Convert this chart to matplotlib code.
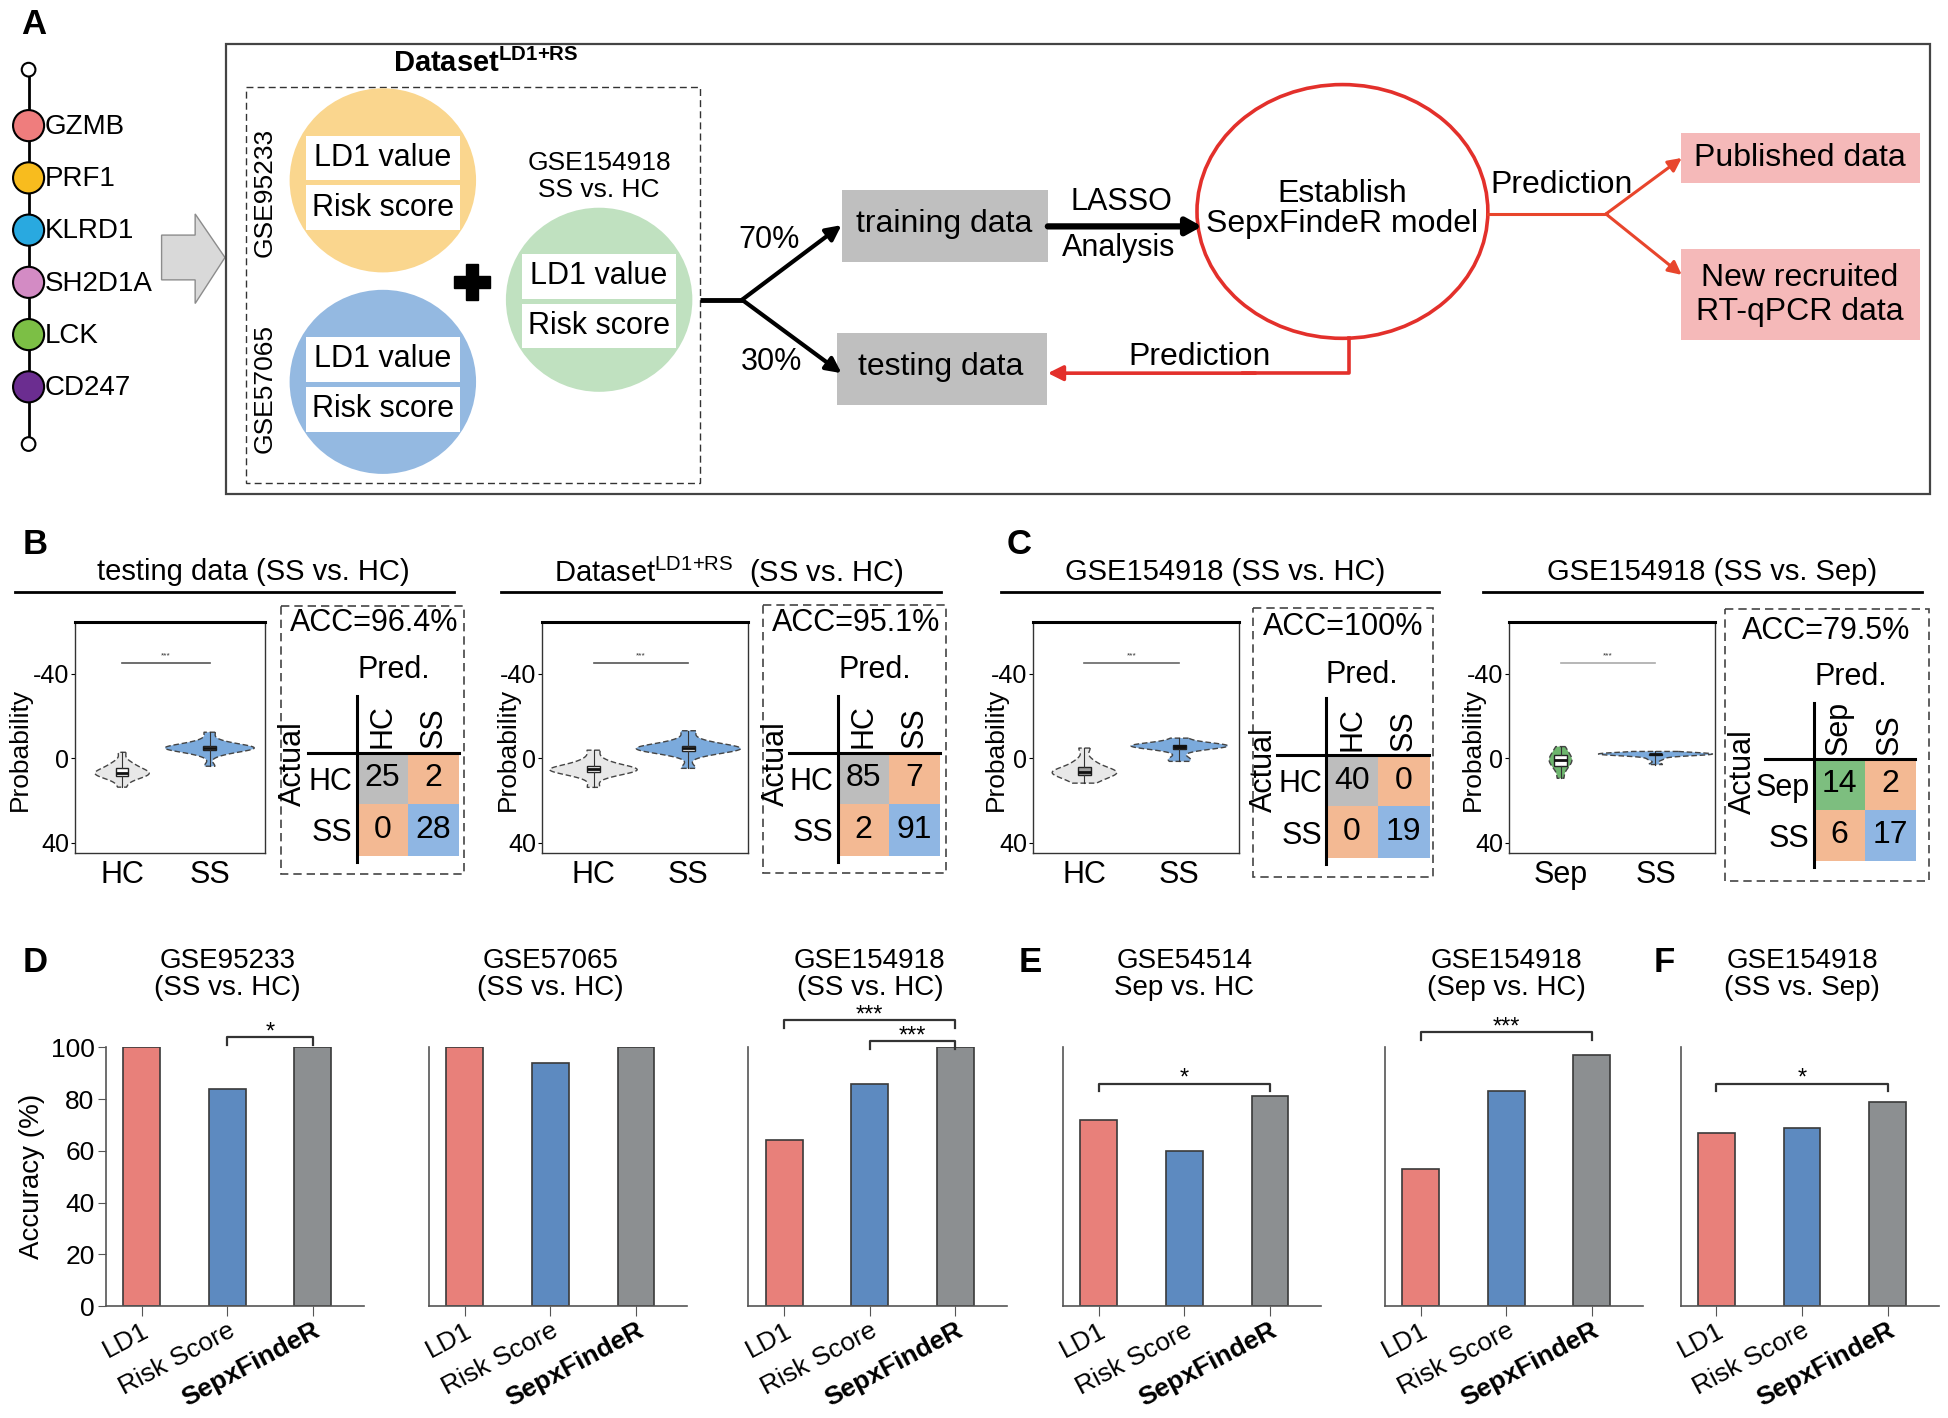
import numpy as np
import matplotlib
matplotlib.use('Agg')
import matplotlib.pyplot as plt
from matplotlib.patches import Ellipse, Rectangle, Circle, Polygon
from matplotlib.colors import to_rgb
from matplotlib.transforms import blended_transform_factory

plt.rcParams['font.family'] = ['Liberation Sans', 'DejaVu Sans']
plt.rcParams['mathtext.fontset'] = 'custom'
plt.rcParams['mathtext.rm'] = 'Liberation Sans'
plt.rcParams['mathtext.bf'] = 'Liberation Sans:bold'
plt.rcParams['axes.unicode_minus'] = False

# ---------------- data ----------------
genes = ['GZMB', 'PRF1', 'KLRD1', 'SH2D1A', 'LCK', 'CD247']
gene_colors = ['#EF7D7D', '#F8BC1E', '#29A9E0', '#D38BC4', '#7CBF45', '#6B2D90']

cm_titles = ['testing data (SS vs. HC)', 'Dataset$^{\\mathrm{LD1{+}RS}}$  (SS vs. HC)',
             'GSE154918 (SS vs. HC)', 'GSE154918 (SS vs. Sep)']
acc_text = ['ACC=96.4%', 'ACC=95.1%', 'ACC=100%', 'ACC=79.5%']
cm_testing = [[25, 2], [0, 28]]
cm_dataset = [[85, 7], [2, 91]]
cm_gse_hc = [[40, 0], [0, 19]]
cm_gse_sep = [[14, 2], [6, 17]]
cm_classes = [['HC', 'SS'], ['HC', 'SS'], ['HC', 'SS'], ['Sep', 'SS']]

# violin samples (probability)
b1_hc = [-2.8, 1.5, 3, 4, 5, 5.8, 6.3, 6.8, 7.2, 7.6, 8, 8.5, 9.3, 10.5, 13.7]
b1_ss = [-12.3, -8.5, -6.8, -6, -5.5, -5.2, -5, -4.8, -4.5, -4.2, -3.8, -3, -1.5, 3.8]
b2_hc = [-3.8, 0.5, 2.5, 3.8, 4.6, 5, 5.3, 5.6, 6, 6.5, 7.5, 9, 13.8]
b2_ss = [-13, -8.5, -6.5, -5.6, -5.1, -4.8, -4.5, -4.2, -3.8, -3, -1.5, 4.8]
c1_hc = [-4.8, 1, 3.5, 5, 6, 6.5, 7, 7.5, 8.5, 10, 11.8]
c1_ss = [-9.5, -7, -6.5, -6.2, -6, -5.8, -5.6, -5.3, -4.8, -3.5, 0, 1.5]
c2_sep = [-5.5, -3, -1.5, 0, 1, 2, 3.5, 5.5, 9.5]
c2_ss = [-3.2, -2.4, -2.2, -2.1, -2, -2, -1.9, -1.8, -1.6, -1, 0.5, 3]

methods = ['LD1', 'Risk Score', 'SepxFindeR']
bar_colors = ['#E8807A', '#5D8AC0', '#8C8F91']
acc_gse95233 = [100, 84, 100]
acc_gse57065 = [100, 94, 100]
acc_gse154918_ss = [64, 86, 100]
acc_gse54514 = [72, 60, 81]
acc_gse154918_sep = [53, 83, 97]
acc_gse154918_sssep = [67, 69, 79]
bar_titles = ['GSE95233\n(SS vs. HC)', 'GSE57065\n(SS vs. HC)', 'GSE154918\n(SS vs. HC)',
              'GSE54514\nSep vs. HC', 'GSE154918\n(Sep vs. HC)', 'GSE154918\n(SS vs. Sep)']
# (bar i, bar j, bracket height, label)
sig_d1 = [(1, 2, 104, '*')]
sig_d2 = []
sig_d3 = [(0, 2, 110.5, '***'), (1, 2, 102.5, '***')]
sig_e1 = [(0, 2, 86, '*')]
sig_e2 = [(0, 2, 106, '***')]
sig_f = [(0, 2, 86, '*')]

# ---------------- layout helpers ----------------
W, H = 1568.0, 1140.0
fig = plt.figure(figsize=(19.49, 14.18), dpi=100)


def rect(x0, y0, x1, y1):
    return [x0 / W, 1 - y1 / H, (x1 - x0) / W, (y1 - y0) / H]


base = fig.add_axes([0, 0, 1, 1])
base.set_xlim(0, W)
base.set_ylim(H, 0)
base.axis('off')

# ---------------- panel A ----------------
for lab, x, y in [('A', 27, 20), ('B', 28, 438), ('C', 820, 438),
                  ('D', 28, 774), ('E', 829, 774), ('F', 1339, 774)]:
    base.text(x, y, lab, fontsize=25, fontweight='bold', ha='center', va='center')

base.plot([23, 23], [56, 357], color='black', lw=2, zorder=1)
for yy in [56, 357]:
    base.add_patch(Circle((23, yy), 5.5, fc='white', ec='black', lw=1.5, zorder=2))
for g, c, yy in zip(genes, gene_colors, np.linspace(101, 311, len(genes))):
    base.add_patch(Circle((23, yy), 12.5, fc=c, ec='black', lw=1.5, zorder=2))
    base.text(36, yy + 1, g, fontsize=20, ha='left', va='center', zorder=3)

base.add_patch(Polygon([(130, 189), (157, 189), (157, 172), (181, 207), (157, 244), (157, 225), (130, 225)],
                       fc='#D9D9D9', ec='#8C8C8C', lw=1))
base.add_patch(Rectangle((182, 35), 1371, 362, fc='none', ec='#444444', lw=1.6))
base.text(391, 51, r'$\mathbf{Dataset}^{\mathbf{LD1{+}RS}}$', fontsize=21, ha='center', va='center')
base.add_patch(Rectangle((198, 70), 365, 318, fc='none', ec='#333333', lw=1, ls=(0, (5, 3))))

circles = [((308, 145), '#FAD68E', 109, 149), ((308, 307), '#94B9E1', 271, 311), ((482, 241), '#C0E1C0', 204, 244)]
for (cx, cy), col, y1, y2 in circles:
    base.add_patch(Ellipse((cx, cy), 150, 148, fc=col, ec='none'))
    for yy, txt in [(y1, 'LD1 value'), (y2, 'Risk score')]:
        base.add_patch(Rectangle((cx - 62, yy), 124, 36, fc='white', ec='none'))
        base.text(cx, yy + 18, txt, fontsize=22, ha='center', va='center')
base.text(213, 155, 'GSE95233', rotation=90, fontsize=19, ha='center', va='center')
base.text(213, 312, 'GSE57065', rotation=90, fontsize=19, ha='center', va='center')
base.text(482, 142, 'GSE154918\nSS vs. HC', fontsize=19, ha='center', va='center', linespacing=1.15)
base.plot([380], [227], marker='P', ms=26, color='black', mec='black')

base.plot([563, 598], [241, 241], color='black', lw=3.5, solid_capstyle='butt')
for ty in [181, 300]:
    base.annotate('', xy=(677, ty), xytext=(597, 241),
                  arrowprops=dict(arrowstyle='-|>,head_length=0.9,head_width=0.45', lw=3,
                                  color='black', shrinkA=0, shrinkB=0))
base.text(619, 193, '70%', fontsize=22, ha='center', va='center')
base.text(621, 291, '30%', fontsize=22, ha='center', va='center')

base.add_patch(Rectangle((677, 153), 166, 58, fc='#BFBFBF', ec='none'))
base.text(760, 180, 'training data', fontsize=23, ha='center', va='center')
base.add_patch(Rectangle((673, 268), 169, 58, fc='#BFBFBF', ec='none'))
base.text(757, 295, 'testing data', fontsize=23, ha='center', va='center')

base.annotate('', xy=(967, 182), xytext=(843, 182),
              arrowprops=dict(arrowstyle='-|>,head_length=0.9,head_width=0.5', lw=4.5,
                              color='black', shrinkA=0, shrinkB=0))
base.text(902, 162, 'LASSO', fontsize=22, ha='center', va='center')
base.text(900, 199, 'Analysis', fontsize=22, ha='center', va='center')

red = '#E3302B'
base.add_patch(Ellipse((1080, 170), 234, 204, fc='none', ec=red, lw=2.6))
base.text(1080, 168, 'Establish\nSepxFindeR model', fontsize=23, ha='center', va='center', linespacing=1.0)
base.plot([1197, 1293], [172, 172], color='#E8452C', lw=2.2)
for ty in [127, 221]:
    base.annotate('', xy=(1353, ty), xytext=(1292, 172),
                  arrowprops=dict(arrowstyle='-|>,head_length=0.8,head_width=0.4', lw=2.2,
                                  color='#E8452C', shrinkA=0, shrinkB=0))
base.text(1256, 149, 'Prediction', fontsize=23, ha='center', va='center')
base.add_patch(Rectangle((1352, 107), 193, 40, fc='#F5B9B9', ec='none'))
base.text(1448, 127, 'Published data', fontsize=23, ha='center', va='center')
base.add_patch(Rectangle((1352, 200), 193, 73, fc='#F5B9B9', ec='none'))
base.text(1448, 237, 'New recruited\nRT-qPCR data', fontsize=23, ha='center', va='center', linespacing=1.15)

base.plot([1085, 1085, 1000], [272, 300, 300], color=red, lw=2.6)
base.annotate('', xy=(843, 300), xytext=(1010, 300),
              arrowprops=dict(arrowstyle='-|>,head_length=0.9,head_width=0.45', lw=2.6,
                              color=red, shrinkA=0, shrinkB=0))
base.text(965, 287, 'Prediction', fontsize=23, ha='center', va='center')

# ---------------- panels B / C ----------------
headers = [(12, 365, 204), (403, 757, 586), (805, 1158, 986), (1193, 1546, 1377)]
for (x0, x1, tx), t in zip(headers, cm_titles):
    base.plot([x0, x1], [476, 476], color='black', lw=2)
    base.text(tx, 460, t, fontsize=21, ha='center', va='center')

violin_sets = [
    (b1_hc, b1_ss, ['HC', 'SS'], ['#E8E8E8', '#7BAADC'], [0.62, 1.02], ['white', 'white'], '#555555'),
    (b2_hc, b2_ss, ['HC', 'SS'], ['#E8E8E8', '#7BAADC'], [0.92, 1.1], ['white', 'white'], '#555555'),
    (c1_hc, c1_ss, ['HC', 'SS'], ['#E8E8E8', '#7BAADC'], [0.68, 1.02], ['#A0A0A0', '#111111'], '#666666'),
    (c2_sep, c2_ss, ['Sep', 'SS'], ['#6DB56D', '#7BAADC'], [0.24, 1.2], ['white', '#111111'], '#AAAAAA'),
]
violin_boxes = [(60, 213), (436, 602), (831, 997), (1214, 1380)]
ylabel_off = [34, 18, 20, 19]

for (g1, g2, labs, cols, wids, boxfc, sigc), (x0, x1), off in zip(violin_sets, violin_boxes, ylabel_off):
    ax = fig.add_axes(rect(x0, 500, x1, 686))
    for pos, d, c, w, bf in zip([0, 1], [g1, g2], cols, wids, boxfc):
        parts = ax.violinplot([d], positions=[pos], widths=w, showextrema=False, bw_method=0.45)
        for b in parts['bodies']:
            b.set_facecolor(c)
            b.set_edgecolor('#444444')
            b.set_linestyle((0, (4, 2)))
            b.set_linewidth(1)
            b.set_alpha(1)
        ax.boxplot([d], positions=[pos], widths=0.14, whis=(0, 100), showfliers=False,
                   patch_artist=True, manage_ticks=False,
                   boxprops=dict(facecolor=bf, edgecolor='#222222', lw=1),
                   medianprops=dict(color='#111111', lw=2),
                   whiskerprops=dict(color='#333333', lw=0.8), capprops=dict(lw=0))
    ax.plot([0, 1], [-45, -45], color=sigc, lw=1.2)
    ax.text(0.5, -47, '***', fontsize=6, ha='center', va='bottom', color='#333333')
    ax.set_xlim(-0.543, 1.63)
    ax.set_ylim(45, -64.5)
    ax.set_yticks([-40, 0, 40])
    ax.set_xticks([0, 1])
    ax.set_xticklabels(labs, fontsize=22)
    ax.tick_params(axis='x', length=0, pad=5)
    ax.tick_params(axis='y', labelsize=18, length=3, pad=1)
    ax.set_ylabel('Probability', fontsize=19)
    ax.yaxis.set_label_coords(-off / (x1 - x0), 0.45)
    for s in ['left', 'right', 'bottom']:
        ax.spines[s].set_linewidth(1)
        ax.spines[s].set_color('#333333')
    ax.spines['top'].set_linewidth(2.2)

dashed = [(226, 487, 373, 703), (614, 486, 761, 702), (1008, 489, 1153, 705), (1388, 490, 1552, 708)]
cm_cells = [(287, 605, 369, 688), (674, 605, 756, 688), (1067, 607, 1150, 690), (1459, 610, 1541, 692)]
acc_pos = [(301, 501), (689, 501), (1081, 504), (1469, 507)]
pred_pos = [(317, 539), (704, 539), (1096, 543), (1489, 544)]
actual_pos = [(236, 614), (624, 614), (1017, 619), (1402, 620)]
diag_cols = [['#BDBDBD', '#8FB6E3'], ['#BDBDBD', '#8FB6E3'], ['#BDBDBD', '#8FB6E3'], ['#7DBE7F', '#8FB6E3']]
off_col = '#F3B993'

for cm, cls, box, cell, ap, pp, acp, dc, acc in zip(
        [cm_testing, cm_dataset, cm_gse_hc, cm_gse_sep], cm_classes, dashed, cm_cells,
        acc_pos, pred_pos, actual_pos, diag_cols, acc_text):
    bx0, by0, bx1, by1 = box
    base.add_patch(Rectangle((bx0, by0), bx1 - bx0, by1 - by0, fc='none', ec='#444444',
                             lw=1.2, ls=(0, (5, 3))))
    base.text(ap[0], ap[1], acc, fontsize=22, ha='center', va='center')
    base.text(pp[0], pp[1], 'Pred.', fontsize=22, ha='center', va='center')
    base.text(acp[0], acp[1], 'Actual', fontsize=22, rotation=90, ha='center', va='center')
    ax = fig.add_axes(rect(*cell))
    rgb = np.array([[to_rgb(dc[0]), to_rgb(off_col)], [to_rgb(off_col), to_rgb(dc[1])]])
    ax.imshow(rgb, extent=(-0.5, 1.5, 1.5, -0.5), aspect='auto')
    for i in range(2):
        for j in range(2):
            ax.text(j, i, str(cm[i][j]), ha='center', va='center', fontsize=23)
    ax.xaxis.tick_top()
    ax.set_xticks([0, 1])
    ax.set_xticklabels(cls, rotation=90, fontsize=22)
    ax.set_yticks([0, 1])
    ax.set_yticklabels(cls, fontsize=22)
    ax.tick_params(length=0, pad=3)
    for s in ax.spines.values():
        s.set_visible(False)
    ax.plot([-0.48, 1], [1, 1], transform=ax.transAxes, color='black', lw=2.2, clip_on=False)
    ax.plot([0, 0], [-0.06, 1.55], transform=ax.transAxes, color='black', lw=2.2, clip_on=False)

# ---------------- panels D / E / F ----------------
bar_sets = [acc_gse95233, acc_gse57065, acc_gse154918_ss, acc_gse54514, acc_gse154918_sep, acc_gse154918_sssep]
sig_sets = [sig_d1, sig_d2, sig_d3, sig_e1, sig_e2, sig_f]
bar_left = [85, 345, 602, 855, 1114, 1352]
x = np.arange(len(methods))

for k, (vals, sigs, title, xl) in enumerate(zip(bar_sets, sig_sets, bar_titles, bar_left)):
    ax = fig.add_axes(rect(xl, 842, xl + 208, 1050))
    ax.bar(x, vals, width=0.43, color=bar_colors, edgecolor='#3A3A3A', linewidth=1.2)
    ax.set_xlim(-0.42, 2.6)
    ax.set_ylim(0, 100)
    for s in ['top', 'right']:
        ax.spines[s].set_visible(False)
    for s in ['left', 'bottom']:
        ax.spines[s].set_linewidth(1.2)
        ax.spines[s].set_color('#555555')
    ax.set_xticks(x)
    ax.set_xticklabels(methods, rotation=28, ha='right', va='top', rotation_mode='anchor', fontsize=19)
    ax.get_xticklabels()[2].set_fontweight('bold')
    ax.tick_params(axis='x', length=7, color='#555555', pad=2)
    if k == 0:
        ax.set_yticks([0, 20, 40, 60, 80, 100])
        ax.tick_params(axis='y', labelsize=19, length=6, color='#555555', pad=2)
        ax.set_ylabel('Accuracy (%)', fontsize=20, labelpad=4)
    else:
        ax.tick_params(axis='y', left=False, labelleft=False)
    for i, j, h, star in sigs:
        ax.plot([i, i, j, j], [h - 3, h, h, h - 3], color='#333333', lw=1.6, clip_on=False)
        ax.text((i + j) / 2, h - 2.5, star, ha='center', va='bottom', fontsize=17)
    tr = blended_transform_factory(ax.transData, ax.transAxes)
    ax.text(1, 1.28, title, transform=tr, ha='center', va='center', fontsize=20, linespacing=1.05)

fig.savefig('out.png', dpi=100)
